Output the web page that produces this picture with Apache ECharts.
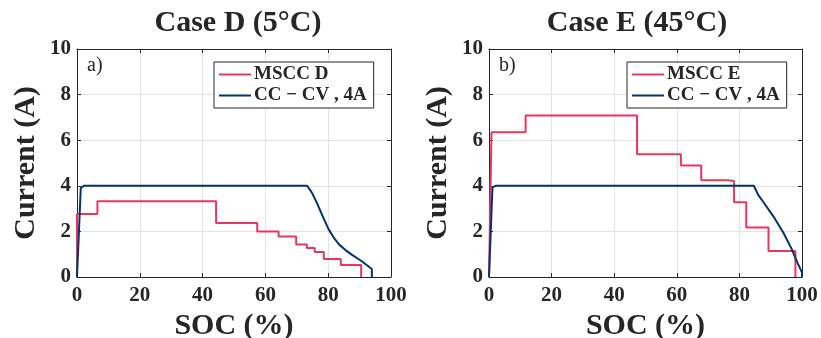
<!DOCTYPE html>
<html>
<head>
<meta charset="utf-8">
<script src="https://cdn.jsdelivr.net/npm/echarts@6/dist/echarts.min.js"></script>
<style>html,body{margin:0;padding:0;background:#fff}#c{width:821px;height:338px}</style>
</head>
<body>
<div id="c"></div>
<script>
// ---- Data ----
const xTicks = [0, 20, 40, 60, 80, 100];
const yTicks = [0, 2, 4, 6, 8, 10];

// Case D (5°C)
const socD_mscc = [0, 0, 6.5, 6.5, 44.3, 44.3, 57.4, 57.4, 64.2, 64.2, 69.8, 69.8, 73.2, 73.2, 75.7, 75.7, 78.6, 78.6, 84.0, 84.0, 90.5, 90.5];
const curD_mscc = [0, 2.76, 2.76, 3.32, 3.32, 2.37, 2.37, 2.0, 2.0, 1.78, 1.78, 1.42, 1.42, 1.27, 1.27, 1.1, 1.1, 0.79, 0.79, 0.53, 0.53, 0];
const socD_cccv = [0, 1.2, 2.2, 73.3, 74.8, 76.4, 78.2, 80.1, 81.7, 83.5, 85.5, 87.5, 90.8, 93.9, 93.9];
const curD_cccv = [0, 3.9, 4.0, 4.0, 3.7, 3.25, 2.68, 2.1, 1.74, 1.42, 1.18, 0.98, 0.68, 0.35, 0];

// Case E (45°C)
const socE_mscc = [0, 0.8, 11.7, 11.7, 47.3, 47.3, 61.3, 61.3, 67.8, 67.8, 76.3, 76.3, 78.3, 78.3, 82.2, 82.2, 89.3, 89.3, 97.9, 97.9];
const curE_mscc = [0, 6.35, 6.35, 7.08, 7.08, 5.38, 5.38, 4.89, 4.89, 4.24, 4.24, 4.21, 4.21, 3.28, 3.28, 2.17, 2.17, 1.14, 1.14, 0];
const socE_cccv = [0, 1.1, 2.1, 84.6, 86.0, 87.7, 90.9, 94.1, 96.8, 98.6, 100, 100];
const curE_cccv = [0, 3.93, 4.0, 4.0, 3.6, 3.28, 2.65, 1.93, 1.2, 0.61, 0.2, 0];

const titles = ['Case D (5°C)', 'Case E (45°C)'];
const msccNames = ['MSCC D', 'MSCC E'];
const cccvName = 'CC − CV , 4A';
const panelLabels = ['a)', 'b)'];

// ---- Styling ----
const RED = '#e8365f';
const BLUE = '#00356b';
const INK = '#262626';
const FONT = 'Liberation Serif';

const zip = (xs, ys) => xs.map((x, i) => [x, ys[i]]);

const grids = [
  { left: 77, top: 49, width: 314, height: 228, outerBoundsMode: 'none', containLabel: false },
  { left: 489, top: 49, width: 313, height: 228, outerBoundsMode: 'none', containLabel: false }
];

function xAx(gi, top) {
  return {
    type: 'value', gridIndex: gi, min: 0, max: 100, interval: 20,
    position: top ? 'top' : 'bottom',
    name: top ? '' : 'SOC (%)', nameLocation: 'middle', nameGap: 29,
    nameTextStyle: { fontFamily: FONT, fontWeight: 'bold', fontSize: 30, color: INK },
    axisLine: { show: true, onZero: false, lineStyle: { color: INK, width: 1 } },
    axisTick: { show: true, inside: true, length: 4, lineStyle: { color: INK } },
    axisLabel: { show: !top, margin: 8, fontFamily: FONT, fontWeight: 'bold', fontSize: 21, color: INK,
      formatter: v => xTicks.includes(v) ? String(v) : '' },
    splitLine: { show: !top, lineStyle: { color: '#e3e3e3', width: 1 } }
  };
}
function yAx(gi, right) {
  return {
    type: 'value', gridIndex: gi, min: 0, max: 10, interval: 2,
    position: right ? 'right' : 'left',
    name: right ? '' : 'Current (A)', nameLocation: 'middle', nameGap: 36,
    nameTextStyle: { fontFamily: FONT, fontWeight: 'bold', fontSize: 30, color: INK },
    axisLine: { show: true, onZero: false, lineStyle: { color: INK, width: 1 } },
    axisTick: { show: true, inside: true, length: 4, lineStyle: { color: INK } },
    axisLabel: { show: !right, margin: 6, fontFamily: FONT, fontWeight: 'bold', fontSize: 21, color: INK,
      formatter: v => yTicks.includes(v) ? String(v) : '' },
    splitLine: { show: !right, lineStyle: { color: '#e3e3e3', width: 1 } }
  };
}

function lineSeries(name, data, color, xi, yi, z) {
  return {
    type: 'line', name, data, xAxisIndex: xi, yAxisIndex: yi,
    symbol: 'none', showSymbol: false, animation: false, z,
    lineStyle: { color, width: 2 }, itemStyle: { color }
  };
}

function legend(left, names) {
  return {
    left, top: 62, orient: 'vertical', data: names,
    backgroundColor: '#fff', borderColor: INK, borderWidth: 1,
    padding: [3, 7, 3, 4], itemGap: 2, itemWidth: 32, itemHeight: 14,
    itemStyle: { opacity: 0 },
    textStyle: { fontFamily: FONT, fontWeight: 'bold', fontSize: 19, color: INK, padding: [0, 0, 0, -2] },
    selectedMode: false
  };
}

const chart = echarts.init(document.getElementById('c'), null, { renderer: 'canvas' });
chart.setOption({
  animation: false,
  backgroundColor: '#fff',
  title: [
    { text: titles[0], left: 233, top: 3, textAlign: 'center',
      textStyle: { fontFamily: FONT, fontWeight: 'bold', fontSize: 30, color: INK } },
    { text: titles[1], left: 632, top: 3, textAlign: 'center',
      textStyle: { fontFamily: FONT, fontWeight: 'bold', fontSize: 30, color: INK } }
  ],
  grid: grids,
  xAxis: [xAx(0, false), xAx(0, true), xAx(1, false), xAx(1, true)],
  yAxis: [yAx(0, false), yAx(0, true), yAx(1, false), yAx(1, true)],
  legend: [legend(214, [msccNames[0], cccvName]), legend(627, [msccNames[1], cccvName])],
  graphic: [
    { type: 'text', left: 87, top: 56, style: { text: panelLabels[0], fontFamily: FONT, fontSize: 20, fill: INK } },
    { type: 'text', left: 499, top: 56, style: { text: panelLabels[1], fontFamily: FONT, fontSize: 20, fill: INK } }
  ],
  series: [
    lineSeries(msccNames[0], zip(socD_mscc, curD_mscc), RED, 0, 0, 2),
    lineSeries(cccvName, zip(socD_cccv, curD_cccv), BLUE, 0, 0, 3),
    lineSeries(msccNames[1], zip(socE_mscc, curE_mscc), RED, 2, 2, 2),
    lineSeries(cccvName, zip(socE_cccv, curE_cccv), BLUE, 2, 2, 3)
  ]
});
</script>
</body>
</html>
